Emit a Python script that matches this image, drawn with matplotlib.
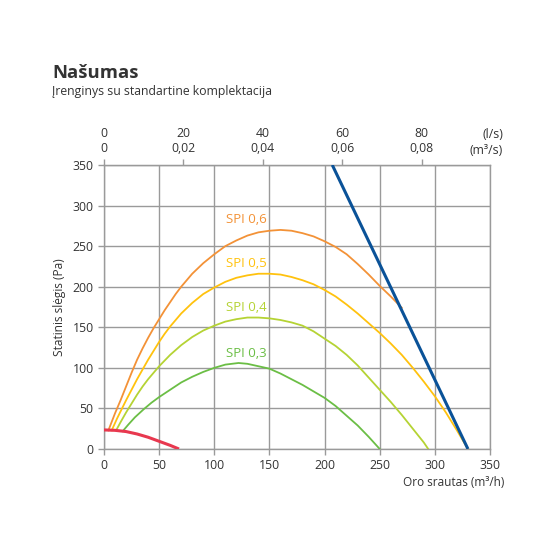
import matplotlib.pyplot as plt

plt.rcParams['font.family'] = ['Open Sans', 'DejaVu Sans']

# SPI kreivės (m3/h, Pa), nuskaityta nuo grafiko
spi06_x = [4, 10, 15, 20, 25, 30, 35, 40, 45, 50, 55, 60, 65, 70, 80, 90, 100, 110, 120, 130,
           140, 150, 160, 170, 180, 190, 200, 210, 220, 230, 240, 250, 260, 270]
spi06_y = [23, 44, 60, 77, 94, 110, 124, 137, 149, 160, 171, 181, 191, 200, 216, 229, 240, 250, 257, 263,
           267, 269, 270, 269, 266, 262, 256, 249, 240, 228, 215, 201, 188, 174]
spi05_x = [7, 12, 20, 25, 30, 35, 40, 45, 50, 55, 60, 70, 80, 90, 100, 110, 120, 130, 140,
           150, 160, 170, 180, 190, 200, 210, 220, 230, 240, 250, 260, 270, 280, 290, 300, 310, 320, 330]
spi05_y = [23, 38, 60, 73, 86, 98, 110, 121, 132, 142, 151, 167, 180, 191, 199, 206, 211, 214, 216,
           216, 215, 212, 208, 203, 196, 188, 178, 167, 155, 143, 130, 116, 100, 83, 65, 45, 23, 0]
spi04_x = [11, 15, 20, 25, 30, 35, 40, 45, 50, 55, 60, 70, 80, 90, 100, 110, 120, 130, 140, 150, 160,
           170, 180, 190, 200, 210, 220, 230, 240, 250, 260, 270, 280, 290, 294]
spi04_y = [23, 33, 45, 56, 67, 77, 86, 94, 102, 109, 116, 128, 138, 146, 152, 157, 160, 162, 162, 161, 159,
           156, 152, 145, 136, 127, 116, 103, 88, 73, 58, 42, 25, 8, 0]
spi03_x = [17, 22, 28, 36, 43, 50, 60, 70, 80, 90, 100, 110, 122, 130, 140, 150, 160, 170, 180, 190,
           200, 210, 220, 230, 240, 250]
spi03_y = [22, 30, 39, 49, 57, 64, 73, 82, 89, 95, 100, 104, 106, 105, 102, 99, 93, 86, 79, 71,
           63, 53, 41, 29, 15, 0]
min_x = [0, 10, 20, 30, 40, 50, 60, 68]
min_y = [23.5, 23, 21.5, 18.5, 14.5, 9.5, 4.5, 0]
max_x = [207, 330]
max_y = [350, 0]

spi_labels = ['SPI 0,6', 'SPI 0,5', 'SPI 0,4', 'SPI 0,3']
spi_label_y = [283, 229, 174, 118]
top_ls = [0, 20, 40, 60, 80]
top_m3s = ['0', '0,02', '0,04', '0,06', '0,08']

txt = '#333333'
grid_c = '#9a9a9a'
colors = ['#F39237', '#FFC20E', '#B5D334', '#6BBE45']

fig = plt.figure(figsize=(5.5, 5.5), dpi=100)
ax = fig.add_axes([104 / 550, 1 - 449 / 550, 386 / 550, 284 / 550])

curves = [(spi06_x, spi06_y), (spi05_x, spi05_y), (spi04_x, spi04_y), (spi03_x, spi03_y)]
for (cx, cy), c, lab, ly in zip(curves, colors, spi_labels, spi_label_y):
    ax.plot(cx, cy, color=c, lw=1.3, zorder=3)
    ax.text(111, ly, lab, color=c, fontsize=9.5, ha='left', va='center', zorder=4)

ax.plot(min_x, min_y, color='#E8384F', lw=2.2, zorder=4, solid_capstyle='butt')
ax.plot(max_x, max_y, color='#0A5298', lw=2.2, zorder=5, solid_capstyle='butt')

ax.set_xlim(0, 350)
ax.set_ylim(0, 350)
ax.set_xticks(range(0, 351, 50))
ax.set_yticks(range(0, 351, 50))
ax.grid(True, color=grid_c, lw=1)
ax.set_axisbelow(True)
for s in ax.spines.values():
    s.set_color(grid_c)
    s.set_linewidth(1)
ax.tick_params(colors=grid_c, labelcolor=txt, labelsize=8.8, length=4, width=1)

ax.set_ylabel('Statinis slėgis (Pa)', color=txt, fontsize=8.6, labelpad=5)

# viršutinė ašis l/s ir m3/s
top = ax.secondary_xaxis('top', functions=(lambda v: v / 3.6, lambda v: v * 3.6))
top.set_xticks(top_ls)
top.set_xticklabels([f'{a}\n{b}' for a, b in zip(top_ls, top_m3s)])
top.tick_params(colors=grid_c, labelcolor=txt, labelsize=8.8, length=4, width=1)
top.spines['top'].set_color(grid_c)

fig.text(503 / 550, 1 - 135 / 550, '(l/s)', color=txt, fontsize=8.8, ha='right', va='center')
fig.text(503 / 550, 1 - 150 / 550, '(m³/s)', color=txt, fontsize=8.8, ha='right', va='center')
fig.text(504 / 550, 1 - 482 / 550, 'Oro srautas (m³/h)', color=txt, fontsize=8.5, ha='right', va='center')

fig.text(52 / 550, 1 - 73 / 550, 'Našumas', color=txt, fontsize=13.3, fontweight='bold', ha='left', va='center')
fig.text(52 / 550, 1 - 92 / 550, 'Įrenginys su standartine komplektacija', color=txt, fontsize=8.8,
         ha='left', va='center')

fig.savefig('out.png', dpi=100)
